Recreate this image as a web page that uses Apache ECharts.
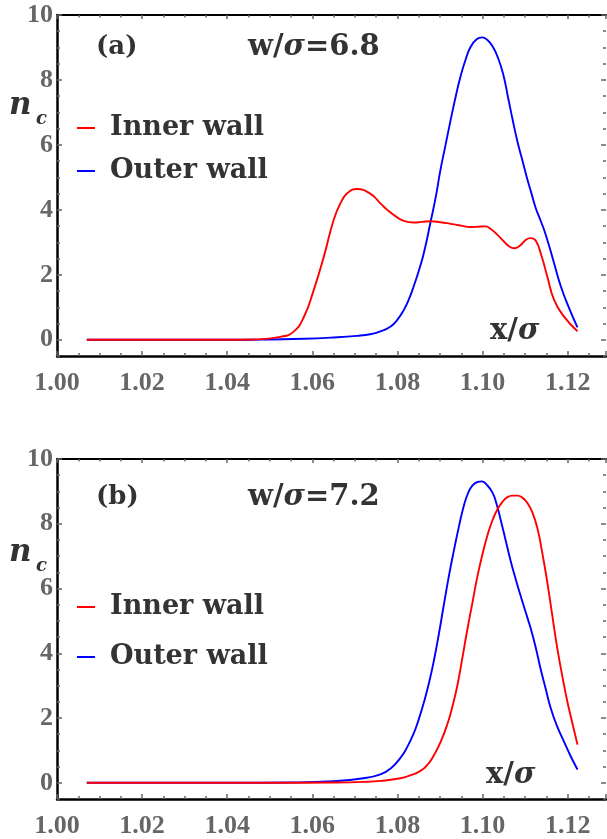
<!DOCTYPE html>
<html>
<head>
<meta charset="utf-8">
<title>n_c vs x/sigma</title>
<script src="https://cdn.jsdelivr.net/npm/echarts@6.0.0/dist/echarts.min.js"></script>
<style>
  html, body { margin: 0; padding: 0; background: #fff; }
  #chart { width: 607px; height: 839px; }
</style>
</head>
<body>
<div id="chart"></div>
<script>
// panel (a): w/sigma = 6.8
const innerAX = [1.007, 1.02, 1.03, 1.04, 1.046, 1.0525, 1.0556, 1.058, 1.0603, 1.0627, 1.065, 1.0666, 1.0682, 1.0705, 1.0736, 1.076, 1.0776, 1.0796, 1.0815, 1.0838, 1.0858, 1.0878, 1.0901, 1.0925, 1.0948, 1.0972, 1.099, 1.1007, 1.102, 1.1035, 1.1049, 1.1062, 1.1074, 1.1088, 1.1102, 1.1113, 1.1125, 1.1138, 1.1152, 1.1168, 1.1191, 1.1223];
const innerAY = [0, 0, 0, 0, 0.01, 0.09, 0.25, 0.7, 1.52, 2.56, 3.69, 4.2, 4.51, 4.64, 4.5, 4.2, 4.0, 3.8, 3.66, 3.61, 3.63, 3.65, 3.62, 3.57, 3.52, 3.47, 3.48, 3.49, 3.4, 3.23, 3.04, 2.88, 2.82, 2.9, 3.08, 3.13, 3.05, 2.6, 1.95, 1.23, 0.72, 0.26];
const outerAX = [1.007, 1.03, 1.045, 1.05, 1.058, 1.065, 1.0705, 1.0736, 1.076, 1.0784, 1.08, 1.0815, 1.0827, 1.0838, 1.085, 1.0862, 1.0878, 1.089, 1.0901, 1.0913, 1.0925, 1.0937, 1.0948, 1.096, 1.0972, 1.0986, 1.0999, 1.1012, 1.1024, 1.1035, 1.1048, 1.106, 1.1071, 1.1082, 1.1093, 1.1104, 1.1115, 1.1125, 1.1136, 1.1148, 1.1166, 1.1184, 1.1204, 1.1223];
const outerAY = [0, 0, 0, 0.01, 0.03, 0.07, 0.12, 0.17, 0.26, 0.41, 0.62, 0.92, 1.25, 1.64, 2.12, 2.67, 3.64, 4.4, 5.23, 6.0, 6.77, 7.5, 8.1, 8.62, 9.02, 9.25, 9.31, 9.22, 9.02, 8.72, 8.2, 7.45, 6.75, 6.1, 5.55, 5.0, 4.5, 4.05, 3.68, 3.25, 2.45, 1.64, 0.95, 0.38];

// panel (b): w/sigma = 7.2
const innerBX = [1.007, 1.05, 1.065, 1.072, 1.076, 1.0807, 1.083, 1.0854, 1.087, 1.0886, 1.0902, 1.0917, 1.0929, 1.0941, 1.0952, 1.0964, 1.0976, 1.0987, 1.0999, 1.1011, 1.1023, 1.1035, 1.1047, 1.1058, 1.107, 1.1082, 1.1094, 1.1105, 1.1117, 1.1129, 1.114, 1.1152, 1.1164, 1.1176, 1.1188, 1.1199, 1.1211, 1.1223];
const innerBY = [0, 0, 0.01, 0.03, 0.06, 0.14, 0.23, 0.37, 0.55, 0.86, 1.28, 1.8, 2.35, 3.02, 3.82, 4.72, 5.55, 6.32, 7.02, 7.62, 8.1, 8.45, 8.68, 8.82, 8.87, 8.87, 8.8, 8.65, 8.35, 7.85, 7.12, 6.2, 5.15, 4.12, 3.25, 2.52, 1.84, 1.18];
const outerBX = [1.007, 1.04, 1.055, 1.065, 1.072, 1.076, 1.0784, 1.0807, 1.0822, 1.0838, 1.085, 1.0862, 1.0874, 1.0886, 1.0898, 1.0909, 1.0921, 1.0933, 1.0945, 1.0956, 1.0966, 1.0976, 1.0988, 1.0998, 1.101, 1.1023, 1.1032, 1.1042, 1.1054, 1.1066, 1.1078, 1.1089, 1.1101, 1.1113, 1.1125, 1.1136, 1.1148, 1.116, 1.1175, 1.1191, 1.1207, 1.1223];
const outerBY = [0, 0, 0.01, 0.05, 0.14, 0.26, 0.44, 0.77, 1.08, 1.52, 1.96, 2.48, 3.08, 3.8, 4.65, 5.5, 6.4, 7.2, 7.95, 8.56, 8.95, 9.18, 9.29, 9.31, 9.2, 8.97, 8.65, 8.15, 7.5, 6.85, 6.28, 5.79, 5.28, 4.77, 4.17, 3.54, 2.92, 2.31, 1.75, 1.28, 0.82, 0.41];

const seriesNames = ['Inner wall', 'Outer wall'];
const panelLabels = ['(a)', '(b)'];
const widthValues = ['6.8', '7.2'];
const yTickValues = [0, 2, 4, 6, 8, 10];

const colors = {
  inner: '#ff0000',
  outer: '#0000ff',
  text: '#333333',
  tick: '#666666',
  frame: '#000000',
};

const serif = '"DejaVu Serif", serif';
const tickFont = '"Liberation Serif", serif';
const pair = (xs, ys) => xs.map((x, i) => [x, ys[i]]);

const chart = echarts.init(document.getElementById('chart'));

const grids = [
  { left: 57, top: 15, width: 549, height: 341 },
  { left: 57, top: 459, width: 549, height: 342 },
];

const xAxes = [];
const yAxes = [];
grids.forEach((g, gi) => {
  // bottom axis with labels
  xAxes.push({
    type: 'value', gridIndex: gi, position: 'bottom',
    min: 1.0, max: 1.129, interval: 0.02,
    axisLine: { onZero: false, lineStyle: { color: colors.frame, width: 2.5 } },
    axisTick: { inside: true, length: 5, lineStyle: { color: colors.tick, width: 1.5 } },
    minorTick: { show: true, splitNumber: 4, length: 3, lineStyle: { color: colors.tick, width: 1.5 } },
    axisLabel: {
      margin: 14, showMaxLabel: false,
      fontFamily: tickFont, fontWeight: 'bold', fontSize: 26, color: colors.tick,
      formatter: (v) => v.toFixed(2),
    },
    splitLine: { show: false },
  });
  // top frame
  xAxes.push({
    type: 'value', gridIndex: gi, position: 'top',
    min: 1.0, max: 1.129, interval: 0.02,
    axisLine: { onZero: false, lineStyle: { color: colors.frame, width: 2 } },
    axisTick: { inside: true, length: 4, lineStyle: { color: colors.tick, width: 1.5 } },
    minorTick: { show: true, splitNumber: 4, length: 2.5, lineStyle: { color: colors.tick, width: 1.5 } },
    axisLabel: { show: false },
    splitLine: { show: false },
  });
  // left: minor ticks + line
  yAxes.push({
    type: 'value', gridIndex: gi, position: 'left',
    min: -0.5, max: 10, interval: 0.5,
    axisLine: { show: true, onZero: false, lineStyle: { color: colors.frame, width: 2.5 } },
    axisTick: { inside: true, length: 3, lineStyle: { color: colors.tick, width: 1.5 } },
    axisLabel: { show: false },
    splitLine: { show: false },
  });
  // left: major ticks + labels
  yAxes.push({
    type: 'value', gridIndex: gi, position: 'left',
    min: -0.5, max: 10,
    axisLine: { show: false },
    axisTick: { inside: true, length: 5, customValues: yTickValues, lineStyle: { color: colors.tick, width: 1.5 } },
    axisLabel: {
      customValues: yTickValues, margin: 4,
      fontFamily: tickFont, fontWeight: 'bold', fontSize: 26, color: colors.tick,
    },
    splitLine: { show: false },
  });
  // right: minor ticks
  yAxes.push({
    type: 'value', gridIndex: gi, position: 'right',
    min: -0.5, max: 10, interval: 0.5,
    axisLine: { show: false },
    axisTick: { inside: true, length: 3, lineStyle: { color: colors.tick, width: 1.5 } },
    axisLabel: { show: false },
    splitLine: { show: false },
  });
  // right: major ticks
  yAxes.push({
    type: 'value', gridIndex: gi, position: 'right',
    min: -0.5, max: 10,
    axisLine: { show: false },
    axisTick: { inside: true, length: 5, customValues: yTickValues, lineStyle: { color: colors.tick, width: 1.5 } },
    axisLabel: { show: false },
    splitLine: { show: false },
  });
});

const lineSeries = (name, data, color, gi) => ({
  name, type: 'line', data,
  xAxisIndex: gi * 2, yAxisIndex: gi * 4,
  smooth: 0.5, showSymbol: false, symbol: 'none',
  lineStyle: { color, width: 1.9 },
  itemStyle: { color },
  animation: false,
});

const legendFor = (top, gap) => ({
  data: seriesNames,
  orient: 'vertical', left: 77, top, padding: 0,
  itemGap: gap, itemWidth: 18, itemHeight: 2, icon: 'rect',
  selectedMode: false,
  textStyle: {
    fontFamily: serif, fontWeight: 'bold', fontSize: 27, lineHeight: 30,
    color: colors.text, padding: [0, 0, 0, 10],
  },
});

const richTitle = {
  t: { fontFamily: serif, fontWeight: 'bold', fontSize: 29, fill: colors.text },
  s: { fontFamily: serif, fontWeight: 'bold', fontStyle: 'italic', fontSize: 29, fill: colors.text },
};

const textItem = (text, x, y, size, extra) => ({
  type: 'text', x, y,
  style: Object.assign({
    text, fill: colors.text, fontFamily: serif, fontWeight: 'bold', fontSize: size,
    textVerticalAlign: 'middle',
  }, extra || {}),
});

const annotations = [];
[47, 497].forEach((cy, gi) => {
  annotations.push(textItem(panelLabels[gi], 96, cy, 26));
  annotations.push(textItem('{t|w/}{s|σ}{t|=' + widthValues[gi] + '}', 248, cy, 29, { rich: richTitle }));
});
[[106, 119], [553, 566]].forEach(([ny, cy]) => {
  annotations.push(textItem('n', 9, ny, 31, { fontStyle: 'italic' }));
  annotations.push(textItem('c', 36, cy, 18, { fontStyle: 'italic' }));
});
[331, 775].forEach((cy, gi) => {
  annotations.push(textItem('{t|x/}{s|σ}', gi === 0 ? 490 : 486, cy, 29, { rich: richTitle }));
});

chart.setOption({
  backgroundColor: '#ffffff',
  animation: false,
  grid: grids,
  xAxis: xAxes,
  yAxis: yAxes,
  legend: [legendFor(113, 13), legendFor(592, 20)],
  series: [
    lineSeries(seriesNames[1], pair(outerAX, outerAY), colors.outer, 0),
    lineSeries(seriesNames[0], pair(innerAX, innerAY), colors.inner, 0),
    lineSeries(seriesNames[1], pair(outerBX, outerBY), colors.outer, 1),
    lineSeries(seriesNames[0], pair(innerBX, innerBY), colors.inner, 1),
  ],
  graphic: annotations,
});
</script>
</body>
</html>
